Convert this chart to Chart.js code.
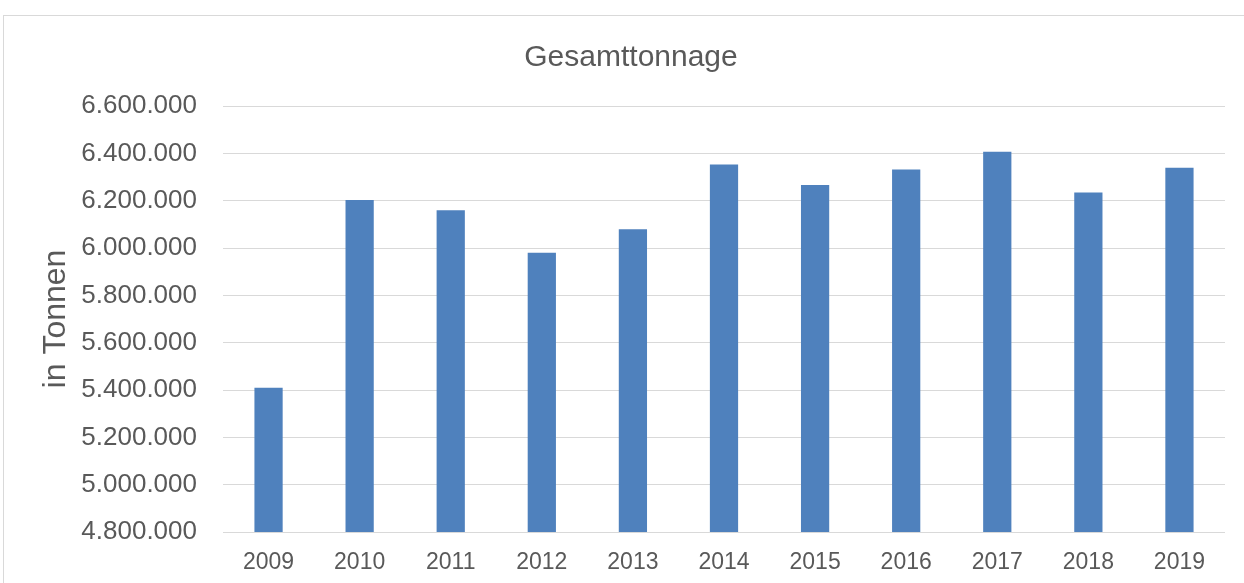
<!DOCTYPE html>
<html>
<head>
<meta charset="utf-8">
<script src="https://cdn.jsdelivr.net/npm/chart.js@4"></script>
<style>
html,body{margin:0;padding:0;background:#fff;overflow:hidden;}
#wrap{position:absolute;left:0;top:0;width:1244px;height:583px;}
#frame{position:absolute;left:3px;top:15px;width:1300px;height:700px;border:1px solid #d9d9d9;box-sizing:border-box;}
canvas{position:absolute;left:0;top:0;}
</style>
</head>
<body>
<div id="wrap">
<div id="frame"></div>
<canvas id="c" width="1244" height="583"></canvas>
</div>
<script>
const categories = ['2009','2010','2011','2012','2013','2014','2015','2016','2017','2018','2019'];
const tonnage = [5410000, 6203000, 6160000, 5980000, 6079000, 6353000, 6266000, 6332000, 6407000, 6235000, 6339000];
const yMin = 4800000, yMax = 6600000, yStep = 200000;
const chartTitle = 'Gesamttonnage';
const yTitle = 'in Tonnen';

function fmt(v){ return String(Math.round(v)).replace(/\B(?=(\d{3})+(?!\d))/g,'.'); }

new Chart(document.getElementById('c'), {
  type: 'bar',
  data: {
    labels: categories,
    datasets: [{
      data: tonnage,
      backgroundColor: '#4F81BD',
      borderWidth: 0,
      barPercentage: 0.31,
      categoryPercentage: 1.0
    }]
  },
  options: {
    responsive: false,
    animation: false,
    devicePixelRatio: 1,
    layout: { padding: { left: 37, right: 19, top: 40, bottom: 9 } },
    plugins: {
      legend: { display: false },
      tooltip: { enabled: false },
      title: {
        display: true,
        text: chartTitle,
        color: '#595959',
        font: { family: 'Liberation Sans', size: 30, weight: 'normal' },
        padding: { top: 0, bottom: 30 }
      }
    },
    scales: {
      x: {
        grid: { display: false, drawTicks: false },
        border: { display: false },
        ticks: { color: '#595959', font: { family: 'Liberation Sans', size: 23 }, padding: 17 },
        afterFit: s => { s.height = 42; }
      },
      y: {
        min: yMin, max: yMax,
        grid: { color: '#d9d9d9', lineWidth: 1, drawTicks: false },
        border: { display: false },
        ticks: { stepSize: yStep, color: '#595959', font: { family: 'Liberation Sans', size: 26 }, padding: 26, callback: v => fmt(v) },
        title: { display: true, text: yTitle, color: '#595959', font: { family: 'Liberation Sans', size: 32 }, padding: { top: 0, bottom: 7 } },
        afterFit: s => { s.width = 186; s.paddingTop = 0; s.paddingBottom = 0; }
      }
    }
  }
});
</script>
</body>
</html>
